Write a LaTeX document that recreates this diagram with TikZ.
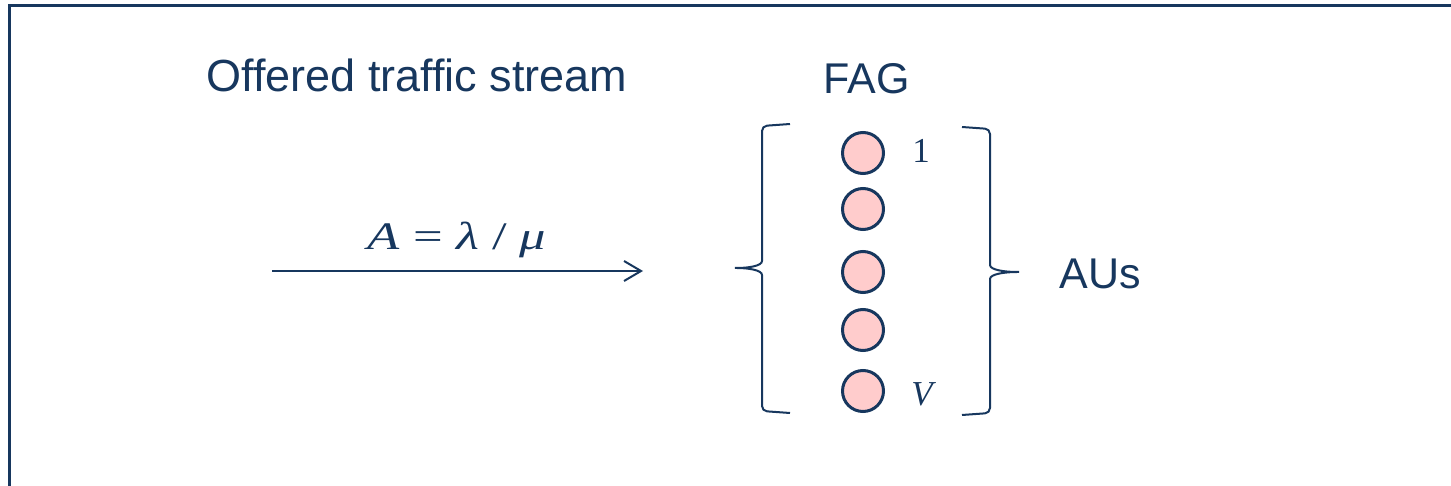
\documentclass[tikz,border=0pt]{standalone}
\usepackage{fontspec}
\setmainfont{Liberation Sans}
\newfontfamily\timesfont{Liberation Serif}
\usetikzlibrary{arrows.meta}
\definecolor{navy}{HTML}{17375E}
\definecolor{aupink}{HTML}{FFCCCC}

\tikzset{
  label text/.style={font=\fontsize{43}{50}\selectfont},
  au/.style={circle,draw=navy,fill=aupink,line width=3pt,minimum size=41pt,inner sep=0pt},
  au index/.style={font=\fontsize{35}{40}\selectfont\timesfont,anchor=base},
  brace/.style={line width=2pt,rounded corners=5pt},
}

\begin{document}
\begin{tikzpicture}[x=1pt,y=-1pt,color=navy,line width=2pt,>={Straight Barb[length=17pt,width=20pt]}]
\useasboundingbox (0,0) rectangle (1451,486);
% ---- frame, open to the right and bottom ----
\draw[line width=3pt] (9,486) -- (9,6) -- (1451,6);
% ---- offered traffic ----
\node[label text,font=\fontsize{45}{52}\selectfont,anchor=base west] (stream) at (202,92) {Offered traffic stream};
\coordinate (src) at (272,271);
\coordinate (dst) at (643,271);
\draw[->] (src) -- (dst);
\node[anchor=base,xscale=1.35,font=\fontsize{39}{46}\selectfont\timesfont] (rate) at (457,250)
  {\itshape A\/ \upshape= \itshape λ \upshape/ \itshape μ};
% ---- full availability group of V units ----
\node[label text,anchor=base] (fag) at (867,94) {FAG};
\foreach \y [count=\i] in {153,209,272,330,391}{
  \node[au] (au\i) at (863,\y) {};
}
\node[au index] (first) at (921,163) {1};
\node[au index] (last) at (922,405) {\itshape V};
\draw[brace] (790,124) -- (762,126) -- (762,256)
  .. controls (762,266) and (748,268) .. (732,268)
  .. controls (748,268) and (762,270) .. (762,280) -- (762,411) -- (790,413);
\draw[brace] (962,127) -- (990,129) -- (990,260)
  .. controls (990,270) and (1005,272) .. (1022,272)
  .. controls (1005,272) and (990,274) .. (990,284) -- (990,413) -- (962,415);
\node[label text,anchor=base west] (aus) at (1055,289) {AUs};
\end{tikzpicture}
\end{document}
